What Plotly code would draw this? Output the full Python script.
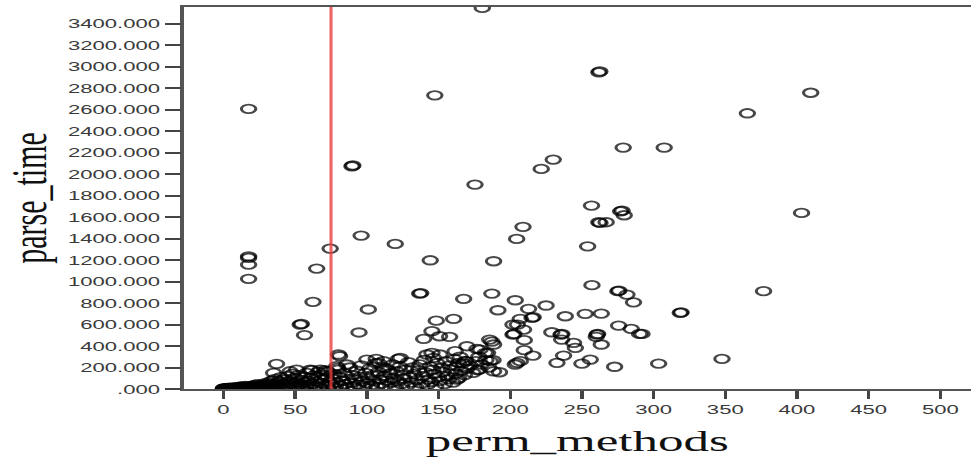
import plotly.graph_objects as go

# (perm_methods, parse_time) observations, grouped by region of the cloud
HIGH_POINTS = [
    (180.5, 3546), (261.8, 2947), (262.5, 2955), (409.6, 2757), (147.4, 2733),
    (17.5, 2607), (365.4, 2566), (278.8, 2247), (307.4, 2247), (230.0, 2135),
    (221.6, 2048), (89.6, 2073), (90.2, 2080), (175.4, 1902), (256.7, 1707),
    (277.0, 1654), (278.0, 1660), (279.5, 1617), (403.2, 1639), (261.8, 1552),
    (262.6, 1546), (266.9, 1552), (208.9, 1509), (96.0, 1428), (204.5, 1397),
    (119.8, 1350), (254.0, 1328), (74.4, 1307), (17.5, 1235), (17.5, 1220),
    (144.2, 1198), (188.4, 1189), (17.5, 1158), (65.0, 1121), (17.5, 1025),
]

MID_POINTS = [
    (257.0, 966), (376.7, 910), (275.1, 910), (275.8, 915), (281.4, 879),
    (136.8, 888), (137.6, 893), (187.2, 888), (167.5, 839), (203.5, 826),
    (286.0, 807), (62.4, 811), (225.0, 777), (212.8, 746), (101.0, 740),
    (191.4, 733), (318.6, 709), (319.2, 714), (252.3, 700), (263.5, 702),
    (238.4, 677), (160.5, 653), (207.0, 653), (215.2, 662), (216.0, 668),
    (148.4, 636), (53.5, 600), (54.3, 606), (201.9, 600), (205.0, 600),
    (275.6, 590), (284.4, 560), (209.3, 553), (145.4, 538), (94.5, 526),
    (229.0, 528), (56.5, 502), (290.2, 513), (291.9, 513), (201.9, 507),
    (202.6, 512), (235.4, 507), (236.0, 512), (260.5, 507), (261.0, 512),
    (260.0, 486), (150.7, 491), (157.7, 486), (139.6, 467), (185.6, 460),
    (209.8, 454), (235.9, 460), (187.2, 440), (244.2, 430), (263.5, 414),
    (188.4, 414), (169.8, 398),
]

LOW_POINTS = [
    (245.4, 383), (176.8, 374), (209.8, 361), (179.0, 367), (161.6, 352),
    (184.2, 337), (182.6, 337), (145.4, 337), (151.0, 321), (141.9, 321),
    (80.2, 321), (81.0, 305), (237.2, 311), (215.8, 311), (146.5, 290),
    (123.3, 290), (122.0, 281), (106.5, 281), (347.7, 281), (255.8, 274),
    (100.0, 274), (188.0, 268), (207.0, 259), (186.0, 259), (111.6, 259),
    (168.6, 260), (204.7, 244), (232.6, 244), (164.0, 244), (108.0, 244),
    (250.0, 237), (303.5, 237), (37.0, 234), (86.0, 228), (203.5, 228),
    (272.8, 207), (79.6, 197), (112.8, 197), (60.5, 181), (178.0, 181),
    (177.2, 175), (71.0, 175), (188.4, 165), (192.5, 156), (35.0, 150),
    (162.8, 88), (46.5, 165), (51.0, 181), (61.7, 175), (67.5, 181),
    (72.0, 165), (79.0, 212),
]

BAND_SMALL = [
    (0, 0), (0, 3), (0, 6), (0, 1), (1, 1), (1, 4), (1, 9), (2, 0), (2, 5),
    (3, 2), (3, 8), (4, 1), (4, 12), (5, 3), (5, 7), (6, 0), (6, 10), (7, 4),
    (7, 15), (8, 2), (8, 8), (9, 5), (9, 18), (10, 1), (10, 11), (11, 6),
    (11, 22), (12, 3), (12, 14), (13, 8), (13, 25), (14, 4), (14, 17),
    (15, 10), (15, 30), (16, 6), (16, 20), (17, 12), (18, 3), (18, 26),
    (19, 15), (20, 8), (20, 32), (21, 18), (22, 5), (22, 38), (23, 22),
    (24, 10), (24, 45), (25, 28), (26, 14), (27, 35), (28, 6), (28, 50),
    (29, 20), (30, 40),
]

BAND_MEDIUM = [
    (31, 12), (31, 62), (32, 28), (33, 48), (34, 8), (34, 80), (35, 36),
    (36, 18), (36, 95), (37, 55), (38, 25), (39, 70), (40, 10), (40, 110),
    (41, 42), (42, 88), (43, 20), (44, 60), (45, 120), (45, 32), (46, 75),
    (47, 15), (48, 50), (48, 140), (49, 98), (50, 28), (51, 65), (52, 130),
    (52, 8), (53, 45), (54, 85), (55, 22), (56, 110), (57, 58), (58, 150),
    (58, 35), (59, 78), (60, 14), (61, 100), (62, 48), (63, 125), (64, 30),
    (65, 70), (66, 160), (67, 20), (68, 90), (69, 55), (70, 130), (71, 38),
    (72, 105), (73, 12), (73, 160), (74, 68), (75, 40), (76, 95), (77, 140),
    (78, 25), (79, 60), (80, 180),
]

BAND_LARGE = [
    (81, 110), (82, 30), (83, 75), (84, 150), (85, 45), (86, 10), (87, 95),
    (88, 200), (89, 60), (90, 130), (91, 25), (92, 85), (93, 170), (94, 40),
    (95, 115), (96, 220), (97, 70), (98, 15), (99, 150), (100, 55),
    (101, 100), (102, 190), (103, 35), (104, 130), (105, 75), (106, 240),
    (107, 20), (108, 160), (109, 90), (110, 50), (111, 200), (112, 120),
    (113, 30), (114, 80), (115, 175), (116, 145), (117, 60), (118, 230),
    (119, 100), (120, 15), (121, 165), (122, 70), (123, 210), (124, 45),
    (125, 130), (126, 95), (127, 180), (128, 30), (129, 250), (130, 110),
    (131, 60), (132, 200), (133, 140), (134, 20), (135, 85), (136, 175),
    (137, 230), (138, 50), (139, 120), (140, 270), (141, 155), (142, 35),
    (143, 90), (144, 210), (145, 65), (146, 180), (147, 140), (148, 25),
    (149, 240), (150, 110), (151, 75), (152, 200), (153, 160), (154, 45),
    (155, 260), (156, 120), (157, 90), (158, 220), (159, 180), (160, 60),
    (161, 280), (162, 140), (163, 210), (164, 100), (165, 300), (166, 170),
    (167, 240), (168, 130), (169, 260), (170, 190), (172, 220), (174, 150),
    (176, 260), (178, 300), (180, 230), (183, 270), (185, 200),
]

POINTS = HIGH_POINTS + MID_POINTS + LOW_POINTS + BAND_SMALL + BAND_MEDIUM + BAND_LARGE
perm_methods = [p[0] for p in POINTS]
parse_time = [p[1] for p in POINTS]

X_TICKS = [0, 50, 100, 150, 200, 250, 300, 350, 400, 450, 500]
X_TICK_LABELS = ["0", "50", "100", "150", "200", "250", "300", "350", "400", "450", "500"]
Y_TICKS = [0, 200, 400, 600, 800, 1000, 1200, 1400, 1600, 1800, 2000,
           2200, 2400, 2600, 2800, 3000, 3200, 3400]
Y_TICK_LABELS = [".000", "200.000", "400.000", "600.000", "800.000", "1000.000",
                 "1200.000", "1400.000", "1600.000", "1800.000", "2000.000",
                 "2200.000", "2400.000", "2600.000", "2800.000", "3000.000",
                 "3200.000", "3400.000"]
CUTOFF = 75
X_RANGE = [-27.8, 521.4]
Y_RANGE = [0, 3555]

# The chart is laid out narrow and widened horizontally in the page.
W, H = 571, 461
STRETCH = 971 / W

fig = go.Figure(
    go.Scatter(
        x=perm_methods,
        y=parse_time,
        mode="markers",
        marker=dict(
            symbol="circle-open",
            size=8.5,
            color="rgba(0,0,0,0.72)",
            line=dict(width=1.8),
        ),
        hoverinfo="x+y",
    )
)

fig.add_shape(
    type="line", xref="x", yref="paper",
    x0=CUTOFF, x1=CUTOFF, y0=0, y1=1,
    line=dict(color="rgba(236,60,60,0.8)", width=1.8),
    layer="above",
)

tick_font = dict(family="Liberation Sans, Arial, sans-serif", size=13, color="#3a3a3a")
title_font = dict(family="Liberation Serif, Times New Roman, serif", size=30, color="#111")

fig.update_layout(
    width=W, height=H,
    margin=dict(l=108, r=0, t=7, b=72),
    paper_bgcolor="white", plot_bgcolor="white",
    showlegend=False,
)
fig.update_xaxes(
    range=X_RANGE, tickmode="array", tickvals=X_TICKS, ticktext=X_TICK_LABELS,
    ticks="outside", ticklen=8, tickwidth=1.5, tickcolor="#444",
    showline=True, linecolor="#555", linewidth=1.8, mirror=True,
    showgrid=False, zeroline=False, tickfont=tick_font,
    title=dict(text="perm_methods", font=title_font, standoff=14),
)
fig.update_yaxes(
    range=Y_RANGE, tickmode="array", tickvals=Y_TICKS, ticktext=Y_TICK_LABELS,
    ticks="outside", ticklen=9.5, tickwidth=1.5, tickcolor="#444",
    showline=True, linecolor="#555", linewidth=1.5, mirror=False,
    showgrid=False, zeroline=False, tickfont=tick_font,
    title=dict(text="parse_time", font=title_font, standoff=6),
)

widen = (
    "var d=document.getElementById('{plot_id}');"
    "d.style.transformOrigin='0 0';"
    "d.style.transform='scaleX(" + f"{STRETCH:.5f}" + ")';"
    "document.body.style.margin='0';"
    "document.body.style.overflow='hidden';"
)

fig.write_html("out.html", post_script=widen, config={"displayModeBar": False})
